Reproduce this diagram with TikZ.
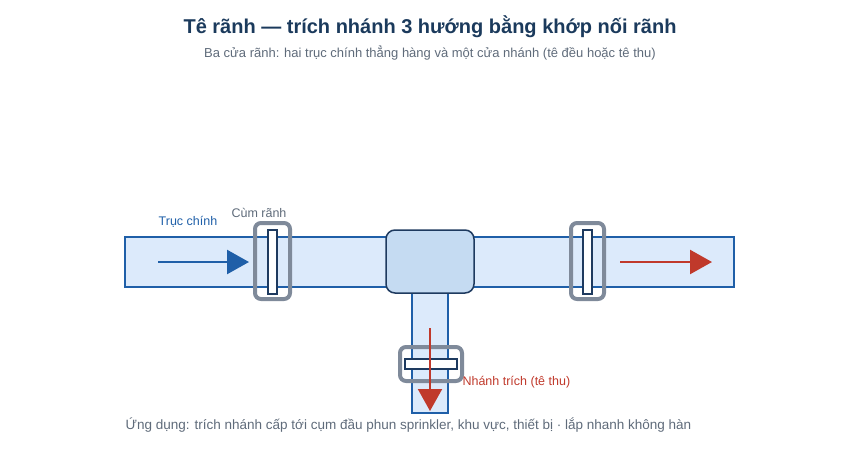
\documentclass[tikz,border=0pt]{standalone}
\usepackage{fontspec}
\setmainfont{Liberation Sans}
\usetikzlibrary{arrows.meta}
\definecolor{pipe}{HTML}{DCEAFB}
\definecolor{pipeline}{HTML}{1F5FA8}
\definecolor{teefill}{HTML}{C5DBF2}
\definecolor{teeline}{HTML}{1E3A5F}
\definecolor{clamp}{HTML}{7F8A9A}
\definecolor{flowblue}{HTML}{1F5FA8}
\definecolor{flowred}{HTML}{C0392B}
\definecolor{titlec}{HTML}{1B3A5C}
\definecolor{greyt}{HTML}{5F6B7A}
\tikzset{
 pipe/.style={fill=pipe,draw=pipeline,line width=1.3pt},
 tee/.style={fill=teefill,draw=teeline,line width=1.5pt,rounded corners=9pt},
 clampo/.style={draw=clamp,line width=4pt,rounded corners=6pt},
 clampi/.style={fill=white,draw=teeline,line width=1.2pt},
 flow/.style={line width=2.5pt,-{Triangle[length=22pt,width=24pt]}},
}
\begin{document}
\begin{tikzpicture}[x=1pt,y=-1pt]
\useasboundingbox (0,0) rectangle (860,451);
\node[font=\fontsize{20}{24}\selectfont\bfseries,text=titlec] (title) at (430,27) {Tê rãnh — trích nhánh 3 hướng bằng khớp nối rãnh};
\node[font=\fontsize{13}{16}\selectfont,text=greyt] (sub) at (430,53) {Ba cửa rãnh: hai trục chính thẳng hàng và một cửa nhánh (tê đều hoặc tê thu)};
% pipes
\draw[pipe] (125,237) rectangle (734,287);
\draw[pipe] (412,290) rectangle (448,413);
\draw[tee] (386,230) rectangle (474,293);
% clamps
\draw[clampo] (255,223) rectangle (290,299);
\draw[clampi] (268,230) rectangle (277,294);
\draw[clampo] (571,223) rectangle (604,299);
\draw[clampi] (583,230) rectangle (592,294);
% arrows
\coordinate (b1) at (158,262); \coordinate (b2) at (249,262);
\draw[flow,flowblue] (b1) -- (b2);
\coordinate (r1) at (620,262); \coordinate (r2) at (712,262);
\draw[flow,flowred] (r1) -- (r2);
\draw[clampo] (400,347) rectangle (462,381);
\draw[clampi] (405,359) rectangle (457,369);
\coordinate (d1) at (430,328); \coordinate (d2) at (430,411);
\draw[flow,flowred,line width=2pt] (d1) -- (d2);
% labels
\node[font=\fontsize{12.5}{15}\selectfont,text=flowblue] (lt) at (188,222) {Trục chính};
\node[font=\fontsize{12.5}{15}\selectfont,text=greyt] (lc) at (259,213) {Cùm rãnh};
\node[font=\fontsize{12.5}{15}\selectfont,text=flowred,anchor=west] (ln) at (459,382) {Nhánh trích (tê thu)};
\node[font=\fontsize{13.5}{16}\selectfont,text=greyt,anchor=west] (lb) at (122,425) {Ứng dụng: trích nhánh cấp tới cụm đầu phun sprinkler, khu vực, thiết bị · lắp nhanh không hàn};
\end{tikzpicture}
\end{document}
